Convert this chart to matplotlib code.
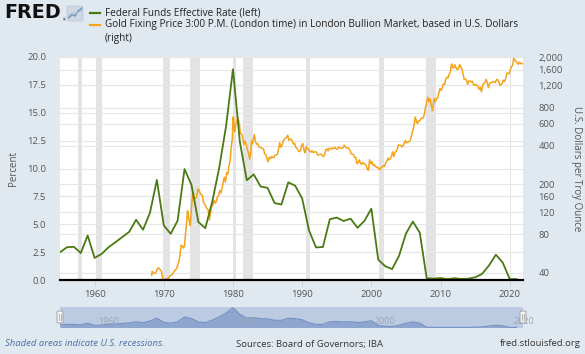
import matplotlib
matplotlib.use("Agg")
import matplotlib.pyplot as plt
from matplotlib.patches import FancyBboxPatch
from matplotlib.lines import Line2D
import numpy as np

# ---------------- data ----------------
ff_years = list(range(1955, 2022))
ff_rate = [2.48, 2.94, 2.98, 2.42, 3.99, 1.98, 2.33, 2.93, 3.38, 3.85,
           4.32, 5.40, 4.51, 6.02, 8.97, 4.90, 4.14, 5.33, 9.95, 8.53,
           5.20, 4.65, 7.00, 10.03, 13.78, 18.90, 12.37, 8.95, 9.47, 8.38,
           8.27, 6.91, 6.77, 8.76, 8.45, 7.31, 4.43, 2.92, 2.96, 5.45,
           5.60, 5.29, 5.50, 4.68, 5.30, 6.40, 1.82, 1.24, 0.98, 2.16,
           4.16, 5.24, 4.24, 0.16, 0.12, 0.18, 0.07, 0.16, 0.09, 0.12,
           0.24, 0.54, 1.30, 2.27, 1.55, 0.09, 0.08]

gold_months = [
    "1968-04", "1968-05", "1968-07", "1968-09", "1968-11", "1969-01", "1969-03", "1969-05", "1969-07", "1969-09", "1969-11", "1969-12",
    "1970-01", "1970-03", "1970-05", "1970-07", "1970-09", "1970-11",
    "1971-01", "1971-03", "1971-05", "1971-07", "1971-09", "1971-11",
    "1972-01", "1972-03", "1972-05", "1972-07", "1972-09", "1972-11",
    "1973-01", "1973-03", "1973-05", "1973-06", "1973-07", "1973-09", "1973-11",
    "1974-01", "1974-03", "1974-04", "1974-06", "1974-08", "1974-10", "1974-12",
    "1975-02", "1975-04", "1975-06", "1975-08", "1975-10", "1975-12",
    "1976-02", "1976-04", "1976-06", "1976-08", "1976-10", "1976-12",
    "1977-02", "1977-04", "1977-06", "1977-08", "1977-10", "1977-12",
    "1978-02", "1978-04", "1978-06", "1978-08", "1978-10", "1978-12",
    "1979-02", "1979-04", "1979-06", "1979-08", "1979-10", "1979-12",
    "1980-01", "1980-02", "1980-03", "1980-04", "1980-06", "1980-08", "1980-09", "1980-11", "1980-12",
    "1981-02", "1981-04", "1981-06", "1981-08", "1981-10", "1981-12",
    "1982-02", "1982-04", "1982-06", "1982-08", "1982-09", "1982-11", "1982-12",
    "1983-02", "1983-04", "1983-06", "1983-08", "1983-10", "1983-12",
    "1984-02", "1984-04", "1984-06", "1984-08", "1984-10", "1984-12",
    "1985-02", "1985-04", "1985-06", "1985-08", "1985-10", "1985-12",
    "1986-02", "1986-04", "1986-06", "1986-08", "1986-10", "1986-12",
    "1987-02", "1987-04", "1987-06", "1987-08", "1987-10", "1987-12",
    "1988-02", "1988-04", "1988-06", "1988-08", "1988-10", "1988-12",
    "1989-02", "1989-04", "1989-06", "1989-08", "1989-10", "1989-12",
    "1990-02", "1990-04", "1990-06", "1990-08", "1990-10", "1990-12",
    "1991-02", "1991-04", "1991-06", "1991-08", "1991-10", "1991-12",
    "1992-02", "1992-04", "1992-06", "1992-08", "1992-10", "1992-12",
    "1993-02", "1993-04", "1993-06", "1993-08", "1993-10", "1993-12",
    "1994-02", "1994-04", "1994-06", "1994-08", "1994-10", "1994-12",
    "1995-02", "1995-04", "1995-06", "1995-08", "1995-10", "1995-12",
    "1996-02", "1996-04", "1996-06", "1996-08", "1996-10", "1996-12",
    "1997-02", "1997-04", "1997-06", "1997-08", "1997-10", "1997-12",
    "1998-02", "1998-04", "1998-06", "1998-08", "1998-10", "1998-12",
    "1999-02", "1999-04", "1999-06", "1999-08", "1999-10", "1999-12",
    "2000-02", "2000-04", "2000-06", "2000-08", "2000-10", "2000-12",
    "2001-02", "2001-04", "2001-06", "2001-08", "2001-10", "2001-12",
    "2002-02", "2002-04", "2002-06", "2002-08", "2002-10", "2002-12",
    "2003-02", "2003-04", "2003-06", "2003-08", "2003-10", "2003-12",
    "2004-02", "2004-04", "2004-06", "2004-08", "2004-10", "2004-12",
    "2005-02", "2005-04", "2005-06", "2005-08", "2005-10", "2005-12",
    "2006-02", "2006-04", "2006-05", "2006-07", "2006-09", "2006-11",
    "2007-01", "2007-03", "2007-05", "2007-07", "2007-09", "2007-11",
    "2008-01", "2008-03", "2008-05", "2008-07", "2008-09", "2008-10", "2008-11", "2008-12",
    "2009-02", "2009-04", "2009-06", "2009-08", "2009-10", "2009-12",
    "2010-02", "2010-04", "2010-06", "2010-08", "2010-10", "2010-12",
    "2011-02", "2011-04", "2011-06", "2011-08", "2011-09", "2011-10", "2011-12",
    "2012-02", "2012-04", "2012-06", "2012-08", "2012-10", "2012-12",
    "2013-02", "2013-04", "2013-06", "2013-08", "2013-10", "2013-12",
    "2014-02", "2014-04", "2014-06", "2014-08", "2014-10", "2014-12",
    "2015-02", "2015-04", "2015-06", "2015-08", "2015-10", "2015-12",
    "2016-02", "2016-04", "2016-06", "2016-08", "2016-10", "2016-12",
    "2017-02", "2017-04", "2017-06", "2017-08", "2017-10", "2017-12",
    "2018-02", "2018-04", "2018-06", "2018-08", "2018-10", "2018-12",
    "2019-02", "2019-04", "2019-06", "2019-08", "2019-10", "2019-12",
    "2020-02", "2020-04", "2020-06", "2020-08", "2020-10", "2020-12",
    "2021-02", "2021-04", "2021-06", "2021-08", "2021-10", "2021-12",
]
gold_prices = [
    38.0, 41.0, 39.5, 39.7, 39.9, 42.0, 43.5, 43.3, 42.0, 41.0, 36.0, 35.2,
    34.9, 35.3, 35.9, 35.3, 36.2, 37.5,
    37.9, 38.5, 39.5, 40.9, 42.0, 42.9,
    45.8, 48.3, 54.6, 65.7, 65.2, 62.6,
    65.1, 84.0, 102.0, 123.0, 120.0, 103.0, 94.0,
    129.0, 168.0, 172.0, 154.0, 154.0, 158.0, 183.0,
    179.0, 170.0, 165.0, 163.0, 143.0, 139.0,
    132.0, 128.0, 125.0, 104.0, 117.0, 134.0,
    136.0, 149.0, 141.0, 145.0, 159.0, 161.0,
    178.0, 170.0, 183.0, 206.0, 226.0, 207.0,
    246.0, 239.0, 279.0, 301.0, 392.0, 459.0,
    675.0, 665.0, 554.0, 517.0, 600.0, 627.0, 674.0, 629.0, 594.0,
    500.0, 495.0, 462.0, 409.0, 437.0, 410.0,
    374.0, 351.0, 315.0, 364.0, 436.0, 414.0, 448.0,
    490.0, 432.0, 413.0, 416.0, 394.0, 388.0,
    386.0, 381.0, 378.0, 347.0, 341.0, 320.0,
    299.0, 325.0, 317.0, 330.0, 325.0, 322.0,
    338.0, 340.0, 343.0, 376.0, 423.0, 391.0,
    401.0, 438.0, 450.0, 460.0, 467.0, 486.0,
    442.0, 452.0, 452.0, 434.0, 412.0, 420.0,
    388.0, 385.0, 367.0, 360.0, 367.0, 401.0,
    417.0, 374.0, 352.0, 395.0, 380.0, 378.0,
    363.0, 357.0, 367.0, 356.0, 357.0, 361.0,
    354.0, 338.0, 341.0, 343.0, 344.0, 335.0,
    329.0, 342.0, 372.0, 379.0, 364.0, 383.0,
    382.0, 377.0, 386.0, 381.0, 389.0, 379.0,
    376.0, 391.0, 387.0, 383.0, 383.0, 387.0,
    405.0, 393.0, 385.0, 387.0, 381.0, 369.0,
    347.0, 344.0, 341.0, 324.0, 325.0, 289.0,
    297.0, 310.0, 293.0, 285.0, 296.0, 291.0,
    287.0, 282.0, 261.0, 257.0, 311.0, 290.0,
    300.0, 280.0, 285.0, 275.0, 271.0, 272.0,
    262.0, 261.0, 270.0, 273.0, 279.0, 276.0,
    295.0, 303.0, 321.0, 310.0, 317.0, 333.0,
    359.0, 329.0, 356.0, 360.0, 379.0, 407.0,
    405.0, 404.0, 392.0, 400.0, 420.0, 442.0,
    423.0, 429.0, 431.0, 437.0, 470.0, 510.0,
    555.0, 610.0, 676.0, 633.0, 598.0, 629.0,
    631.0, 655.0, 667.0, 665.0, 712.0, 806.0,
    889.0, 968.0, 889.0, 939.0, 829.0, 807.0, 760.0, 816.0,
    943.0, 890.0, 946.0, 949.0, 1043.0, 1135.0,
    1096.0, 1149.0, 1232.0, 1215.0, 1342.0, 1391.0,
    1374.0, 1473.0, 1529.0, 1756.0, 1772.0, 1665.0, 1652.0,
    1742.0, 1650.0, 1599.0, 1626.0, 1747.0, 1688.0,
    1627.0, 1485.0, 1342.0, 1348.0, 1316.0, 1225.0,
    1301.0, 1299.0, 1280.0, 1296.0, 1222.0, 1202.0,
    1227.0, 1198.0, 1182.0, 1117.0, 1159.0, 1068.0,
    1200.0, 1242.0, 1260.0, 1341.0, 1266.0, 1151.0,
    1234.0, 1266.0, 1260.0, 1283.0, 1281.0, 1265.0,
    1331.0, 1335.0, 1282.0, 1202.0, 1215.0, 1250.0,
    1320.0, 1285.0, 1359.0, 1500.0, 1495.0, 1480.0,
    1597.0, 1683.0, 1732.0, 1968.0, 1900.0, 1858.0,
    1808.0, 1760.0, 1834.0, 1785.0, 1777.0, 1790.0,
]

recessions = [("1957-08", "1958-04"), ("1960-04", "1961-02"), ("1969-12", "1970-11"),
              ("1973-11", "1975-03"), ("1980-01", "1980-07"), ("1981-07", "1982-11"),
              ("1990-07", "1991-03"), ("2001-03", "2001-11"), ("2007-12", "2009-06"),
              ("2020-02", "2020-04")]

left_ticks = [0.0, 2.5, 5.0, 7.5, 10.0, 12.5, 15.0, 17.5, 20.0]
right_ticks = [40, 80, 120, 160, 200, 400, 600, 800, 1200, 1600, 2000]
x_ticks = [1960, 1970, 1980, 1990, 2000, 2010, 2020]


def ym(s):
    y, m = s.split("-")
    return int(y) + (int(m) - 1) / 12.0


gold_x = [ym(s) for s in gold_months]

# ---------------- style ----------------
FONT = ["Open Sans", "DejaVu Sans"]
plt.rcParams["font.family"] = FONT
BG = "#e1e9f0"
GREEN = "#4a7a14"
ORANGE = "#f5a31a"
GRID = "#e6e6e6"
TXT = "#555555"
RECESS = "#e3e3e3"

W, H = 585, 354
fig = plt.figure(figsize=(W / 100, H / 100), dpi=100, facecolor=BG)


def rect(l, t, r, b):
    return [l / W, (H - b) / H, (r - l) / W, (b - t) / H]


# bottom axes: gold (log, right), carries the white background, shading and grid
axg = fig.add_axes(rect(60, 57, 523, 280))
axg.set_facecolor("white")
XMIN, XMAX = 1955.0, 2021.92
GMIN, GMAX = 35.0, 2010.0
axg.set_xlim(XMIN, XMAX)
axg.set_yscale("log")
axg.set_ylim(GMIN, GMAX)
axg.yaxis.tick_right()
axg.yaxis.set_label_position("right")

# top axes: fed funds (left), transparent
ax = fig.add_axes(rect(60, 57, 523, 280), sharex=axg)
ax.patch.set_visible(False)
ax.set_ylim(0, 20)

for s, e in recessions:
    axg.axvspan(ym(s), ym(e), color=RECESS, lw=0, zorder=0)

for v in right_ticks:
    axg.axhline(v, color=GRID, lw=0.8, zorder=0.5)
for v in left_ticks:
    gv = np.exp(np.log(GMIN) + v / 20 * (np.log(GMAX) - np.log(GMIN)))
    axg.axhline(gv, color=GRID, lw=0.8, zorder=0.5)

axg.plot(gold_x, gold_prices, color=ORANGE, lw=1.1, zorder=3)
ax.plot(ff_years, ff_rate, color=GREEN, lw=1.3, zorder=4)
ax.axhline(0, color="black", lw=1.6, zorder=5, clip_on=False)

for a in (ax, axg):
    for sp in a.spines.values():
        sp.set_visible(False)

ax.set_yticks(left_ticks)
ax.set_yticklabels([f"{v:.1f}" for v in left_ticks])
axg.set_yticks(right_ticks)
axg.set_yticklabels([f"{v:,}" for v in right_ticks])
axg.yaxis.set_minor_locator(matplotlib.ticker.NullLocator())
axg.yaxis.set_minor_formatter(matplotlib.ticker.NullFormatter())
ax.set_xticks(x_ticks)
ax.set_xticklabels([str(v) for v in x_ticks])
ax.tick_params(axis="y", length=0, pad=10, labelsize=6.8, labelcolor=TXT)
axg.tick_params(axis="y", length=0, pad=11, labelsize=6.8, labelcolor=TXT)
ax.tick_params(axis="x", length=4, width=0.6, color="#cccccc", pad=3, labelsize=6.8, labelcolor=TXT)
axg.tick_params(axis="x", length=0, labelbottom=False)

ax.set_ylabel("Percent", fontsize=7, color=TXT, labelpad=6)
axg.set_ylabel("U.S. Dollars per Troy Ounce", fontsize=7, color=TXT, rotation=270, labelpad=14)

# ---------------- header ----------------
fig.text(4 / W, 1 - 13 / H, "FRED", fontsize=13.8, fontweight="heavy", color="#111111",
         va="center", ha="left", family=["DejaVu Sans"])
fig.text(62.5 / W, 1 - 20 / H, "®", fontsize=2.6, color="#111111", va="center", ha="left")
icon = FancyBboxPatch((67 / W, 1 - 21 / H), 16 / W, 15 / H, boxstyle="round,pad=0,rounding_size=0.004",
                      transform=fig.transFigure, facecolor="#cdd8e4", edgecolor="#b8c6d6", lw=0.5)
fig.patches.append(icon)
fig.lines.append(Line2D([68.5 / W, 72 / W, 75 / W, 78 / W, 82 / W],
                        [1 - 18 / H, 1 - 15 / H, 1 - 16 / H, 1 - 11 / H, 1 - 8 / H],
                        transform=fig.transFigure, color="#6e8fb5", lw=0.9))
fig.lines.append(Line2D([68.5 / W, 72 / W, 75 / W, 78 / W, 82 / W],
                        [1 - 16 / H, 1 - 13 / H, 1 - 14 / H, 1 - 12 / H, 1 - 10 / H],
                        transform=fig.transFigure, color="#9ab5cf", lw=0.7))

fig.lines.append(Line2D([90 / W, 100 / W], [1 - 13 / H, 1 - 13 / H],
                        transform=fig.transFigure, color=GREEN, lw=1.6))
fig.lines.append(Line2D([90 / W, 100 / W], [1 - 25 / H, 1 - 25 / H],
                        transform=fig.transFigure, color=ORANGE, lw=1.6))
fig.text(105 / W, 1 - 13 / H, "Federal Funds Effective Rate (left)", fontsize=7.2, color="#222222",
         va="center", ha="left")
fig.text(105 / W, 1 - 25 / H,
         "Gold Fixing Price 3:00 P.M. (London time) in London Bullion Market, based in U.S. Dollars",
         fontsize=7.2, color="#222222", va="center", ha="left")
fig.text(105 / W, 1 - 39 / H, "(right)", fontsize=7.2, color="#222222", va="center", ha="left")

# ---------------- navigator ----------------
nav = fig.add_axes(rect(60, 307, 523, 328))
nav.set_facecolor("#bccbe2")
nav.fill_between(ff_years, ff_rate, 0, color="#8ea6cf", lw=0)
nav.plot(ff_years, ff_rate, color="#7390c2", lw=0.8)
nav.set_xlim(XMIN, XMAX)
nav.set_ylim(-0.5, 19.5)
nav.set_xticks([])
nav.set_yticks([])
for sp in nav.spines.values():
    sp.set_visible(False)
for yr in [1960, 1980, 2000, 2020]:
    nav.text(yr + 0.5, 5.5, str(yr), fontsize=6.5, color="#9aa6b8", va="center", ha="left")
for hx in (60, 523):
    h = FancyBboxPatch(((hx - 3) / W, 1 - 323 / H), 6 / W, 12 / H,
                       boxstyle="round,pad=0,rounding_size=0.003", transform=fig.transFigure,
                       facecolor="#f2f2f2", edgecolor="#999999", lw=0.6, zorder=10)
    fig.patches.append(h)
    for dx in (-1, 1):
        fig.lines.append(Line2D([(hx + dx) / W, (hx + dx) / W], [1 - 320 / H, 1 - 314 / H],
                                transform=fig.transFigure, color="#999999", lw=0.5, zorder=11))

# ---------------- footer ----------------
fig.text(5 / W, 1 - 344 / H, "Shaded areas indicate U.S. recessions.", fontsize=6.8, color="#4a6fa5",
         style="italic", va="center", ha="left")
fig.text(236 / W, 1 - 344 / H, "Sources: Board of Governors; IBA", fontsize=6.8, color="#333333",
         va="center", ha="left")
fig.text(581 / W, 1 - 344 / H, "fred.stlouisfed.org", fontsize=6.8, color="#333333",
         va="center", ha="right")

fig.savefig("out.png", dpi=100, facecolor=BG)
